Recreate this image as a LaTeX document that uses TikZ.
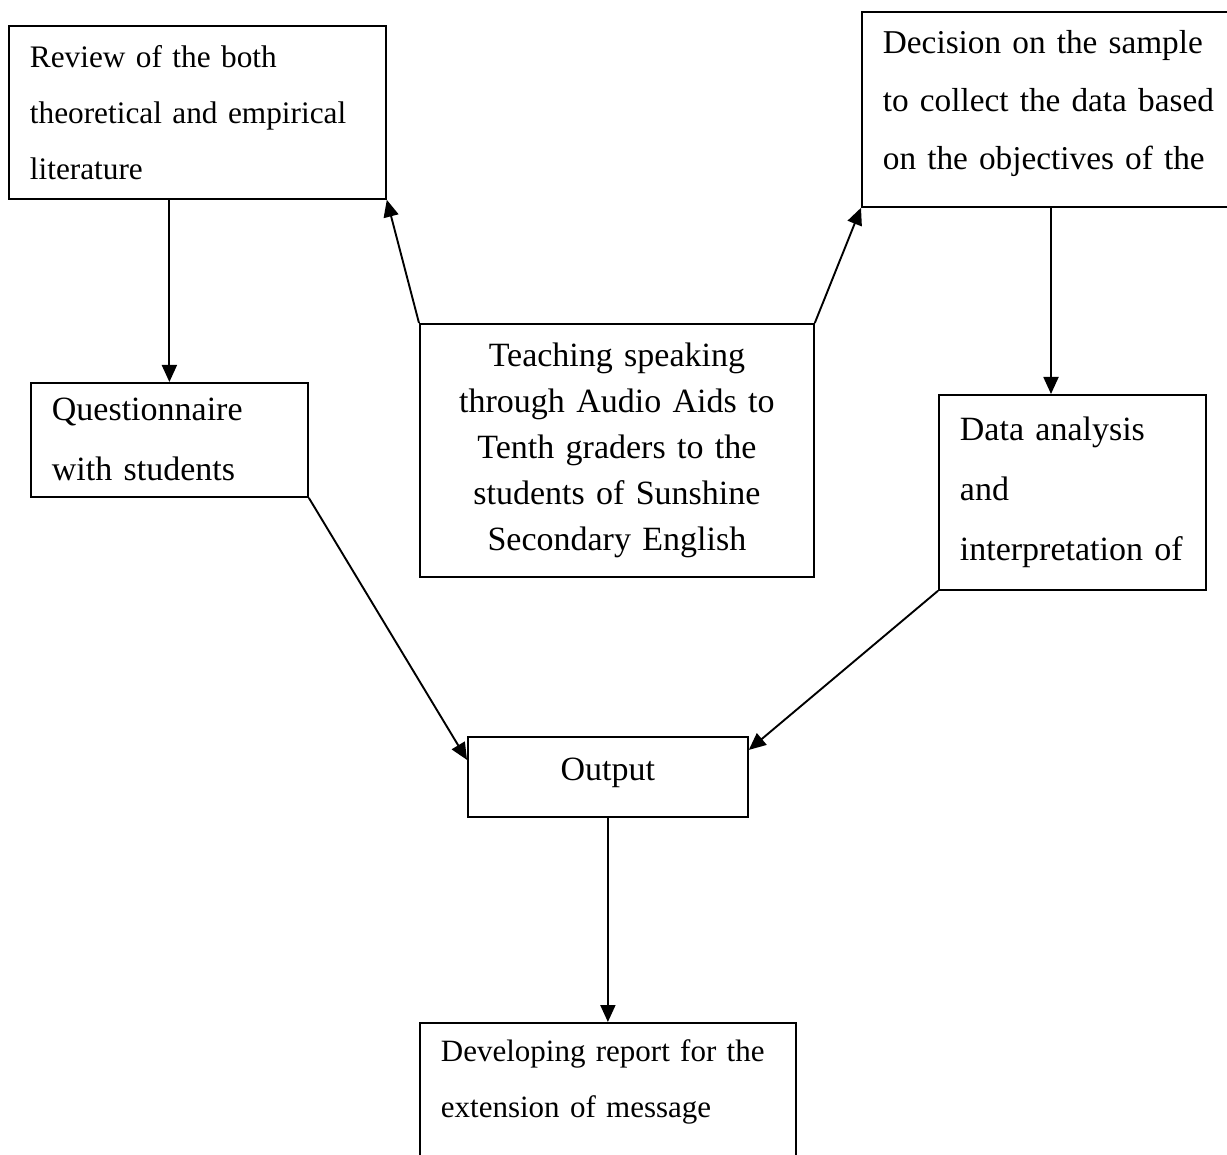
\documentclass[tikz,border=0pt]{standalone}
\usepackage{fontspec}
\setmainfont{Liberation Serif}
\usetikzlibrary{arrows.meta}
\begin{document}
\begin{tikzpicture}[x=1pt,y=-1pt,
  box/.style={draw,line width=1.8pt,inner xsep=21pt,inner ysep=0pt,anchor=north west,align=left},
  cbox/.style={draw,line width=1.8pt,inner xsep=21pt,inner ysep=0pt,anchor=north west,align=center},
  arr/.style={line width=1.9pt,-{Triangle[length=17pt,width=15pt]}}]
\useasboundingbox[fill=white] (0,0) rectangle (1227,1155);
\node[box,minimum width=377pt,minimum height=173pt,text width=335pt,font=\fontsize{31.3}{56}\selectfont] (rev) at (8,25) {Review of the both\\theoretical and empirical\\literature};
\node[box,minimum width=384pt,minimum height=195pt,text width=342pt,text depth=134pt,font=\fontsize{33.3}{58}\selectfont] (dec) at (861,11) {Decision on the sample\\to collect the data based\\on the objectives of the};
\node[cbox,minimum width=394pt,minimum height=253pt,text width=352pt,font=\fontsize{34}{46}\selectfont] (ctr) at (419,323) {Teaching speaking\\through Audio Aids to\\Tenth graders to the\\students of Sunshine\\Secondary English};
\node[box,minimum width=277pt,minimum height=114pt,text width=235pt,font=\fontsize{34}{60}\selectfont] (que) at (30,382) {Questionnaire\\with students};
\node[box,minimum width=267pt,minimum height=195pt,text width=225pt,font=\fontsize{34}{60}\selectfont] (dat) at (938,394) {Data analysis\\and\\interpretation of};
\node[cbox,minimum width=280pt,minimum height=80pt,text width=238pt,text height=24pt,text depth=17pt,font=\fontsize{34}{40}\selectfont] (out) at (467,736) {Output};
\node[box,minimum width=376pt,minimum height=168pt,text width=334pt,font=\fontsize{31}{56}\selectfont] (dev) at (419,1022) {Developing report for the\\extension of message\\\mbox{}};
\coordinate (dx) at (1051,0);
\draw[arr] (ctr.north west) -- (rev.south east);
\draw[arr] (ctr.north east) -- (dec.south west);
\draw[arr] (rev.south -| que.north) -- (que.north);
\draw[arr] (dec.south -| dx) -- (dat.north -| dx);
\draw[arr] (que.south east) -- ([yshift=17pt]out.west);
\draw[arr] (dat.south west) -- ([yshift=27pt]out.east);
\draw[arr] (out.south) -- (dev.north);
\end{tikzpicture}
\end{document}
